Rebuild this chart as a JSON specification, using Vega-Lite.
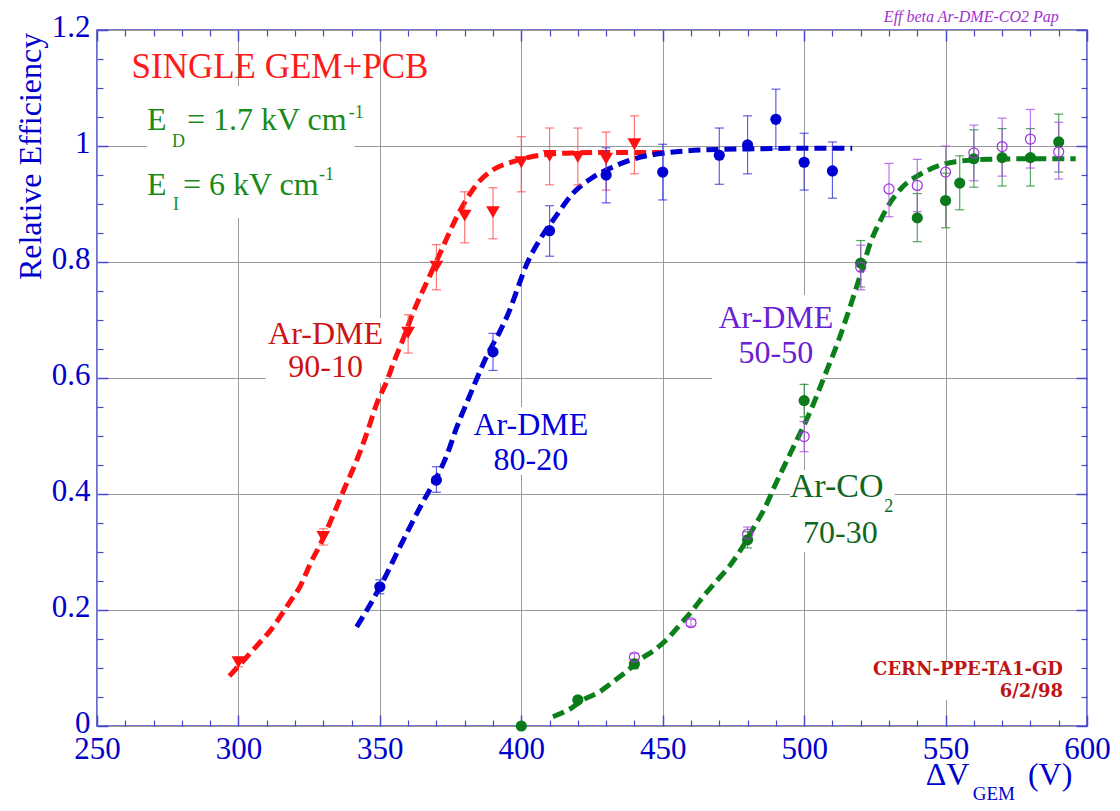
{
  "$schema": "https://vega.github.io/schema/vega-lite/v6.json",
  "width": 990,
  "height": 696,
  "autosize": {"type": "none"},
  "padding": {"left": 97, "top": 30, "right": 33, "bottom": 85},
  "background": "white",
  "config": {"view": {"stroke": "#4848cc", "strokeWidth": 1.6}},
  "datasets": {
    "pts": [
      {"s": "r", "x": 300, "y": 0.110, "lo": 0.102, "hi": 0.118},
      {"s": "r", "x": 330, "y": 0.326, "lo": 0.312, "hi": 0.340},
      {"s": "r", "x": 360, "y": 0.678, "lo": 0.643, "hi": 0.709},
      {"s": "r", "x": 370, "y": 0.792, "lo": 0.752, "hi": 0.830},
      {"s": "r", "x": 380, "y": 0.880, "lo": 0.833, "hi": 0.921},
      {"s": "r", "x": 390, "y": 0.886, "lo": 0.840, "hi": 0.928},
      {"s": "r", "x": 400, "y": 0.972, "lo": 0.921, "hi": 1.016},
      {"s": "r", "x": 410, "y": 0.983, "lo": 0.933, "hi": 1.031},
      {"s": "r", "x": 420, "y": 0.981, "lo": 0.933, "hi": 1.031},
      {"s": "r", "x": 430, "y": 0.978, "lo": 0.924, "hi": 1.024},
      {"s": "r", "x": 440, "y": 1.003, "lo": 0.952, "hi": 1.052},
      {"s": "b", "x": 350, "y": 0.240, "lo": 0.228, "hi": 0.252},
      {"s": "b", "x": 370, "y": 0.424, "lo": 0.403, "hi": 0.447},
      {"s": "b", "x": 390, "y": 0.645, "lo": 0.613, "hi": 0.677},
      {"s": "b", "x": 410, "y": 0.854, "lo": 0.810, "hi": 0.897},
      {"s": "b", "x": 430, "y": 0.950, "lo": 0.902, "hi": 0.997},
      {"s": "b", "x": 450, "y": 0.955, "lo": 0.907, "hi": 1.003},
      {"s": "b", "x": 470, "y": 0.984, "lo": 0.934, "hi": 1.031},
      {"s": "b", "x": 480, "y": 1.002, "lo": 0.952, "hi": 1.052},
      {"s": "b", "x": 490, "y": 1.046, "lo": 0.995, "hi": 1.098},
      {"s": "b", "x": 500, "y": 0.972, "lo": 0.924, "hi": 1.022},
      {"s": "b", "x": 510, "y": 0.957, "lo": 0.910, "hi": 1.007},
      {"s": "g", "x": 400, "y": 0.000, "lo": 0.000, "hi": 0.000},
      {"s": "g", "x": 420, "y": 0.045, "lo": 0.040, "hi": 0.050},
      {"s": "g", "x": 440, "y": 0.107, "lo": 0.099, "hi": 0.115},
      {"s": "g", "x": 480, "y": 0.321, "lo": 0.307, "hi": 0.335},
      {"s": "g", "x": 500, "y": 0.561, "lo": 0.533, "hi": 0.589},
      {"s": "g", "x": 520, "y": 0.798, "lo": 0.757, "hi": 0.837},
      {"s": "g", "x": 540, "y": 0.876, "lo": 0.835, "hi": 0.918},
      {"s": "g", "x": 550, "y": 0.906, "lo": 0.859, "hi": 0.953},
      {"s": "g", "x": 555, "y": 0.936, "lo": 0.890, "hi": 0.983},
      {"s": "g", "x": 560, "y": 0.978, "lo": 0.929, "hi": 1.028},
      {"s": "g", "x": 570, "y": 0.980, "lo": 0.931, "hi": 1.030},
      {"s": "g", "x": 580, "y": 0.980, "lo": 0.931, "hi": 1.030},
      {"s": "g", "x": 590, "y": 1.007, "lo": 0.955, "hi": 1.055},
      {"s": "p", "x": 440, "y": 0.119, "lo": 0.113, "hi": 0.125},
      {"s": "p", "x": 460, "y": 0.178, "lo": 0.172, "hi": 0.184},
      {"s": "p", "x": 480, "y": 0.331, "lo": 0.319, "hi": 0.343},
      {"s": "p", "x": 500, "y": 0.499, "lo": 0.473, "hi": 0.525},
      {"s": "p", "x": 520, "y": 0.791, "lo": 0.752, "hi": 0.829},
      {"s": "p", "x": 530, "y": 0.926, "lo": 0.878, "hi": 0.970},
      {"s": "p", "x": 540, "y": 0.932, "lo": 0.887, "hi": 0.977},
      {"s": "p", "x": 550, "y": 0.955, "lo": 0.909, "hi": 1.000},
      {"s": "p", "x": 560, "y": 0.988, "lo": 0.940, "hi": 1.036},
      {"s": "p", "x": 570, "y": 0.999, "lo": 0.948, "hi": 1.048},
      {"s": "p", "x": 580, "y": 1.012, "lo": 0.962, "hi": 1.063},
      {"s": "p", "x": 590, "y": 0.990, "lo": 0.943, "hi": 1.041}
    ],
    "curves": [
      {"s": "r", "x": 296.8, "y": 0.086}, {"s": "r", "x": 302.4, "y": 0.116}, {"s": "r", "x": 307.0, "y": 0.141},
      {"s": "r", "x": 311.2, "y": 0.164}, {"s": "r", "x": 314.7, "y": 0.188}, {"s": "r", "x": 317.9, "y": 0.212},
      {"s": "r", "x": 321.5, "y": 0.238}, {"s": "r", "x": 326.0, "y": 0.286}, {"s": "r", "x": 328.5, "y": 0.309},
      {"s": "r", "x": 333.1, "y": 0.359}, {"s": "r", "x": 337.7, "y": 0.412}, {"s": "r", "x": 341.9, "y": 0.459},
      {"s": "r", "x": 345.4, "y": 0.505}, {"s": "r", "x": 349.0, "y": 0.557}, {"s": "r", "x": 352.5, "y": 0.595},
      {"s": "r", "x": 355.0, "y": 0.628}, {"s": "r", "x": 358.2, "y": 0.667}, {"s": "r", "x": 361.7, "y": 0.712},
      {"s": "r", "x": 367.7, "y": 0.777}, {"s": "r", "x": 372.3, "y": 0.826}, {"s": "r", "x": 377.2, "y": 0.878},
      {"s": "r", "x": 381.8, "y": 0.917}, {"s": "r", "x": 385.3, "y": 0.940}, {"s": "r", "x": 390.0, "y": 0.959},
      {"s": "r", "x": 397.1, "y": 0.973}, {"s": "r", "x": 406.5, "y": 0.984}, {"s": "r", "x": 418.0, "y": 0.988},
      {"s": "r", "x": 435.0, "y": 0.989}, {"s": "r", "x": 451.0, "y": 0.989},
      {"s": "b", "x": 341.8, "y": 0.171}, {"s": "b", "x": 344.7, "y": 0.194}, {"s": "b", "x": 347.7, "y": 0.219},
      {"s": "b", "x": 352.4, "y": 0.262}, {"s": "b", "x": 355.9, "y": 0.297}, {"s": "b", "x": 360.6, "y": 0.343},
      {"s": "b", "x": 365.3, "y": 0.387}, {"s": "b", "x": 370.0, "y": 0.428}, {"s": "b", "x": 373.6, "y": 0.466},
      {"s": "b", "x": 377.1, "y": 0.514}, {"s": "b", "x": 380.6, "y": 0.556}, {"s": "b", "x": 383.6, "y": 0.591},
      {"s": "b", "x": 387.7, "y": 0.637}, {"s": "b", "x": 392.4, "y": 0.680}, {"s": "b", "x": 395.9, "y": 0.717},
      {"s": "b", "x": 398.8, "y": 0.756}, {"s": "b", "x": 401.8, "y": 0.795}, {"s": "b", "x": 406.5, "y": 0.838},
      {"s": "b", "x": 412.4, "y": 0.880}, {"s": "b", "x": 418.2, "y": 0.918}, {"s": "b", "x": 425.3, "y": 0.946},
      {"s": "b", "x": 432.4, "y": 0.964}, {"s": "b", "x": 440.0, "y": 0.978}, {"s": "b", "x": 451.0, "y": 0.988},
      {"s": "b", "x": 463.0, "y": 0.993}, {"s": "b", "x": 480.0, "y": 0.995}, {"s": "b", "x": 500.0, "y": 0.996},
      {"s": "b", "x": 517.0, "y": 0.996},
      {"s": "g", "x": 411.2, "y": 0.016}, {"s": "g", "x": 417.7, "y": 0.031}, {"s": "g", "x": 421.8, "y": 0.045},
      {"s": "g", "x": 427.7, "y": 0.059}, {"s": "g", "x": 432.4, "y": 0.076}, {"s": "g", "x": 437.7, "y": 0.096},
      {"s": "g", "x": 441.8, "y": 0.114}, {"s": "g", "x": 447.1, "y": 0.131}, {"s": "g", "x": 451.8, "y": 0.151},
      {"s": "g", "x": 456.5, "y": 0.177}, {"s": "g", "x": 460.6, "y": 0.200}, {"s": "g", "x": 465.3, "y": 0.229},
      {"s": "g", "x": 469.4, "y": 0.252}, {"s": "g", "x": 473.5, "y": 0.275}, {"s": "g", "x": 477.1, "y": 0.300},
      {"s": "g", "x": 482.4, "y": 0.344}, {"s": "g", "x": 485.9, "y": 0.374}, {"s": "g", "x": 490.0, "y": 0.418},
      {"s": "g", "x": 495.9, "y": 0.478}, {"s": "g", "x": 502.4, "y": 0.545}, {"s": "g", "x": 507.1, "y": 0.602},
      {"s": "g", "x": 512.4, "y": 0.668}, {"s": "g", "x": 517.0, "y": 0.734}, {"s": "g", "x": 520.6, "y": 0.789},
      {"s": "g", "x": 523.5, "y": 0.834}, {"s": "g", "x": 526.5, "y": 0.867}, {"s": "g", "x": 530.0, "y": 0.899},
      {"s": "g", "x": 534.7, "y": 0.929}, {"s": "g", "x": 540.6, "y": 0.950}, {"s": "g", "x": 547.6, "y": 0.966},
      {"s": "g", "x": 553.5, "y": 0.973}, {"s": "g", "x": 565.0, "y": 0.977}, {"s": "g", "x": 580.0, "y": 0.978},
      {"s": "g", "x": 596.0, "y": 0.978}
    ],
    "boxes": [
      {"x": 267.7, "x2": 341.0, "y": 0.876, "y2": 1.103},
      {"x": 309.7, "x2": 351.8, "y": 0.591, "y2": 0.703},
      {"x": 381.8, "x2": 425.0, "y": 0.433, "y2": 0.550},
      {"x": 467.4, "x2": 506.7, "y": 0.591, "y2": 0.743},
      {"x": 495.0, "x2": 532.0, "y": 0.300, "y2": 0.441},
      {"x": 516.0, "x2": 592.0, "y": 0.045, "y2": 0.110}
    ]
  },
  "encoding": {
    "x": {"field": "x", "type": "quantitative", "scale": {"domain": [250, 600], "nice": false, "zero": false}, "axis": null},
    "y": {"field": "y", "type": "quantitative", "scale": {"domain": [0, 1.2], "nice": false, "zero": false}, "axis": null}
  },
  "resolve": {"axis": {"x": "independent", "y": "independent"}},
  "layer": [
    {
      "data": {"name": "boxes"},
      "mark": {"type": "rect", "fill": "white", "stroke": null},
      "encoding": {
        "x": {"field": "x", "type": "quantitative", "scale": {"domain": [250, 600], "nice": false, "zero": false},
          "axis": {"orient": "bottom", "values": [250, 300, 350, 400, 450, 500, 550, 600], "grid": true, "gridColor": "#9a9a9a", "gridWidth": 1, "ticks": false, "domain": false, "labelFont": "Liberation Serif", "labelFontSize": 31, "labelColor": "#0000cc", "labelPadding": 8, "labelFlush": false, "labelOverlap": false, "title": null}},
        "x2": {"field": "x2"},
        "y": {"field": "y", "type": "quantitative", "scale": {"domain": [0, 1.2], "nice": false, "zero": false},
          "axis": {"orient": "left", "values": [0, 0.2, 0.4, 0.6, 0.8, 1, 1.2], "format": "~g", "grid": true, "gridColor": "#9a9a9a", "gridWidth": 1, "ticks": false, "domain": false, "labelFont": "Liberation Serif", "labelFontSize": 31, "labelColor": "#0000cc", "labelPadding": 7, "labelOffset": -3, "labelFlush": false, "labelOverlap": false, "title": null}},
        "y2": {"field": "y2"}
      }
    },
    {
      "data": {"name": "curves"},
      "transform": [{"filter": "datum.s === 'r'"}],
      "mark": {"type": "line", "color": "#ff1010", "strokeWidth": 5, "strokeDash": [12, 6], "interpolate": "monotone"},
      "encoding": {
        "x": {"field": "x", "type": "quantitative", "scale": {"domain": [250, 600], "nice": false, "zero": false},
          "axis": {"orient": "bottom", "values": [250, 300, 350, 400, 450, 500, 550, 600], "grid": false, "ticks": true, "tickSize": -11, "tickColor": "#4848cc", "tickWidth": 1.5, "labels": false, "domain": false, "title": null}},
        "y": {"field": "y", "type": "quantitative", "scale": {"domain": [0, 1.2], "nice": false, "zero": false},
          "axis": {"orient": "left", "values": [0, 0.2, 0.4, 0.6, 0.8, 1, 1.2], "grid": false, "ticks": true, "tickSize": -11, "tickColor": "#4848cc", "tickWidth": 1.5, "labels": false, "domain": false, "title": null}}
      }
    },
    {
      "data": {"name": "curves"},
      "transform": [{"filter": "datum.s === 'b'"}],
      "mark": {"type": "line", "color": "#0000d0", "strokeWidth": 5, "strokeDash": [12, 6], "interpolate": "monotone"},
      "encoding": {
        "x": {"field": "x", "type": "quantitative", "scale": {"domain": [250, 600], "nice": false, "zero": false},
          "axis": {"orient": "top", "values": [250, 300, 350, 400, 450, 500, 550, 600], "grid": false, "ticks": true, "tickSize": -11, "tickColor": "#4848cc", "tickWidth": 1.5, "labels": false, "domain": false, "title": null}},
        "y": {"field": "y", "type": "quantitative", "scale": {"domain": [0, 1.2], "nice": false, "zero": false},
          "axis": {"orient": "right", "values": [0, 0.2, 0.4, 0.6, 0.8, 1, 1.2], "grid": false, "ticks": true, "tickSize": -11, "tickColor": "#4848cc", "tickWidth": 1.5, "labels": false, "domain": false, "title": null}}
      }
    },
    {
      "data": {"name": "curves"},
      "transform": [{"filter": "datum.s === 'g'"}],
      "mark": {"type": "line", "color": "#0b801a", "strokeWidth": 5, "strokeDash": [12, 6], "interpolate": "monotone"},
      "encoding": {
        "x": {"field": "x", "type": "quantitative", "scale": {"domain": [250, 600], "nice": false, "zero": false},
          "axis": {"orient": "bottom", "values": [260, 270, 280, 290, 310, 320, 330, 340, 360, 370, 380, 390, 410, 420, 430, 440, 460, 470, 480, 490, 510, 520, 530, 540, 560, 570, 580, 590], "grid": false, "ticks": true, "tickSize": -6, "tickColor": "#4848cc", "tickWidth": 1.2, "labels": false, "domain": false, "title": null}},
        "y": {"field": "y", "type": "quantitative", "scale": {"domain": [0, 1.2], "nice": false, "zero": false},
          "axis": {"orient": "left", "values": [0.05, 0.1, 0.15, 0.25, 0.3, 0.35, 0.45, 0.5, 0.55, 0.65, 0.7, 0.75, 0.85, 0.9, 0.95, 1.05, 1.1, 1.15], "grid": false, "ticks": true, "tickSize": -6, "tickColor": "#4848cc", "tickWidth": 1.2, "labels": false, "domain": false, "title": null}}
      }
    },
    {
      "data": {"name": "pts"},
      "transform": [{"filter": "datum.s === 'r'"}],
      "mark": {"type": "errorbar", "ticks": true, "size": 9, "thickness": 1.2, "color": "#ff4a4a", "opacity": 0.75},
      "encoding": {
        "y": {"field": "lo", "type": "quantitative", "scale": {"domain": [0, 1.2], "nice": false, "zero": false}, "axis": null},
        "y2": {"field": "hi"}
      }
    },
    {
      "data": {"name": "pts"},
      "transform": [{"filter": "datum.s === 'b'"}],
      "mark": {"type": "errorbar", "ticks": true, "size": 9, "thickness": 1.2, "color": "#2a2ad8", "opacity": 0.75},
      "encoding": {
        "y": {"field": "lo", "type": "quantitative", "scale": {"domain": [0, 1.2], "nice": false, "zero": false}, "axis": null},
        "y2": {"field": "hi"}
      }
    },
    {
      "data": {"name": "pts"},
      "transform": [{"filter": "datum.s === 'g'"}],
      "mark": {"type": "errorbar", "ticks": true, "size": 9, "thickness": 1.2, "color": "#1a8a2a", "opacity": 0.75},
      "encoding": {
        "y": {"field": "lo", "type": "quantitative", "scale": {"domain": [0, 1.2], "nice": false, "zero": false}, "axis": null},
        "y2": {"field": "hi"}
      }
    },
    {
      "data": {"name": "pts"},
      "transform": [{"filter": "datum.s === 'p'"}],
      "mark": {"type": "errorbar", "ticks": true, "size": 9, "thickness": 1.2, "color": "#a545e0", "opacity": 0.75},
      "encoding": {
        "y": {"field": "lo", "type": "quantitative", "scale": {"domain": [0, 1.2], "nice": false, "zero": false}, "axis": null},
        "y2": {"field": "hi"}
      }
    },
    {
      "data": {"name": "pts"},
      "transform": [{"filter": "datum.s === 'r'"}],
      "mark": {"type": "point", "shape": "triangle-down", "filled": true, "size": 190, "color": "#ff1010", "opacity": 1}
    },
    {
      "data": {"name": "pts"},
      "transform": [{"filter": "datum.s === 'b'"}],
      "mark": {"type": "circle", "size": 125, "color": "#0000d0", "opacity": 1}
    },
    {
      "data": {"name": "pts"},
      "transform": [{"filter": "datum.s === 'g'"}],
      "mark": {"type": "circle", "size": 125, "color": "#0b7a1a", "opacity": 1}
    },
    {
      "data": {"name": "pts"},
      "transform": [{"filter": "datum.s === 'p'"}],
      "mark": {"type": "point", "shape": "circle", "filled": false, "size": 100, "strokeWidth": 1.2, "color": "#a030e0", "opacity": 1},
      "encoding": {
        "x": {"field": "x", "type": "quantitative", "scale": {"domain": [250, 600], "nice": false, "zero": false},
          "axis": {"orient": "top", "values": [260, 270, 280, 290, 310, 320, 330, 340, 360, 370, 380, 390, 410, 420, 430, 440, 460, 470, 480, 490, 510, 520, 530, 540, 560, 570, 580, 590], "grid": false, "ticks": true, "tickSize": -6, "tickColor": "#4848cc", "tickWidth": 1.2, "labels": false, "domain": false, "title": null}},
        "y": {"field": "y", "type": "quantitative", "scale": {"domain": [0, 1.2], "nice": false, "zero": false},
          "axis": {"orient": "right", "values": [0.05, 0.1, 0.15, 0.25, 0.3, 0.35, 0.45, 0.5, 0.55, 0.65, 0.7, 0.75, 0.85, 0.9, 0.95, 1.05, 1.1, 1.15], "grid": false, "ticks": true, "tickSize": -6, "tickColor": "#4848cc", "tickWidth": 1.2, "labels": false, "domain": false, "title": null}}
      }
    },
    {
      "data": {"values": [{"t": "SINGLE GEM+PCB", "x": 262.2, "y": 1.117}]},
      "mark": {"type": "text", "font": "Liberation Serif", "fontSize": 35, "color": "#ff1a1a", "align": "left", "baseline": "alphabetic"},
      "encoding": {"text": {"field": "t"}}
    },
    {
      "data": {"values": [
        {"t": "E", "x": 267.7, "y": 1.0276},
        {"t": "= 1.7 kV cm", "x": 281.8, "y": 1.0276},
        {"t": "E", "x": 267.7, "y": 0.9155},
        {"t": "= 6 kV cm", "x": 280.4, "y": 0.9155}
      ]},
      "mark": {"type": "text", "font": "Liberation Serif", "fontSize": 32, "color": "#1a8a1a", "align": "left", "baseline": "alphabetic"},
      "encoding": {"text": {"field": "t"}}
    },
    {
      "data": {"values": [
        {"t": "D", "x": 276.5, "y": 0.998},
        {"t": "-1", "x": 339.0, "y": 1.048},
        {"t": "I", "x": 276.9, "y": 0.8897},
        {"t": "-1", "x": 328.5, "y": 0.941}
      ]},
      "mark": {"type": "text", "font": "Liberation Serif", "fontSize": 18, "color": "#1a8a1a", "align": "left", "baseline": "alphabetic"},
      "encoding": {"text": {"field": "t"}}
    },
    {
      "data": {"values": [{"t": "Ar-DME", "x": 330.8, "y": 0.659}, {"t": "90-10", "x": 330.8, "y": 0.602}]},
      "mark": {"type": "text", "font": "Liberation Serif", "fontSize": 32, "color": "#cc1414", "align": "center", "baseline": "alphabetic"},
      "encoding": {"text": {"field": "t"}}
    },
    {
      "data": {"values": [{"t": "Ar-DME", "x": 403.4, "y": 0.502}, {"t": "80-20", "x": 403.4, "y": 0.441}]},
      "mark": {"type": "text", "font": "Liberation Serif", "fontSize": 32, "color": "#0000dd", "align": "center", "baseline": "alphabetic"},
      "encoding": {"text": {"field": "t"}}
    },
    {
      "data": {"values": [{"t": "Ar-DME", "x": 490.0, "y": 0.686}, {"t": "50-50", "x": 490.0, "y": 0.626}]},
      "mark": {"type": "text", "font": "Liberation Serif", "fontSize": 32, "color": "#6a20d4", "align": "center", "baseline": "alphabetic"},
      "encoding": {"text": {"field": "t"}}
    },
    {
      "data": {"values": [{"t": "Ar-CO", "x": 494.9, "y": 0.395}]},
      "mark": {"type": "text", "font": "Liberation Serif", "fontSize": 34, "color": "#11661e", "align": "left", "baseline": "alphabetic"},
      "encoding": {"text": {"field": "t"}}
    },
    {
      "data": {"values": [{"t": "2", "x": 528.3, "y": 0.369}]},
      "mark": {"type": "text", "font": "Liberation Serif", "fontSize": 18, "color": "#11661e", "align": "left", "baseline": "alphabetic"},
      "encoding": {"text": {"field": "t"}}
    },
    {
      "data": {"values": [{"t": "70-30", "x": 512.8, "y": 0.3155}]},
      "mark": {"type": "text", "font": "Liberation Serif", "fontSize": 32, "color": "#11661e", "align": "center", "baseline": "alphabetic"},
      "encoding": {"text": {"field": "t"}}
    },
    {
      "data": {"values": [{"t": "CERN-PPE-TA1-GD", "x": 591.5, "y": 0.088}, {"t": "6/2/98", "x": 591.5, "y": 0.050}]},
      "mark": {"type": "text", "font": "DejaVu Serif", "fontWeight": "bold", "fontSize": 18, "color": "#c01515", "align": "right", "baseline": "alphabetic"},
      "encoding": {"text": {"field": "t"}}
    },
    {
      "data": {"values": [{"t": "Eff beta Ar-DME-CO2 Pap", "x": 559.1, "y": 1.2138}]},
      "mark": {"type": "text", "font": "Liberation Serif", "fontStyle": "italic", "fontSize": 16, "color": "#a030d0", "align": "center", "baseline": "alphabetic"},
      "encoding": {"text": {"field": "t"}}
    },
    {
      "data": {"values": [{"t": "Relative Efficiency", "x": 230.2, "y": 0.982}]},
      "mark": {"type": "text", "font": "Liberation Serif", "fontSize": 32, "angle": 270, "color": "#0000cc", "align": "center", "baseline": "alphabetic"},
      "encoding": {"text": {"field": "t"}}
    },
    {
      "data": {"values": [{"t": "ΔV", "x": 543.0, "y": -0.1017}, {"t": "(V)", "x": 579.1, "y": -0.1017}]},
      "mark": {"type": "text", "font": "Liberation Serif", "fontSize": 32, "color": "#0000cc", "align": "left", "baseline": "alphabetic"},
      "encoding": {"text": {"field": "t"}}
    },
    {
      "data": {"values": [{"t": "GEM", "x": 559.6, "y": -0.1276}]},
      "mark": {"type": "text", "font": "Liberation Serif", "fontSize": 19, "color": "#0000cc", "align": "left", "baseline": "alphabetic"},
      "encoding": {"text": {"field": "t"}}
    }
  ]
}
